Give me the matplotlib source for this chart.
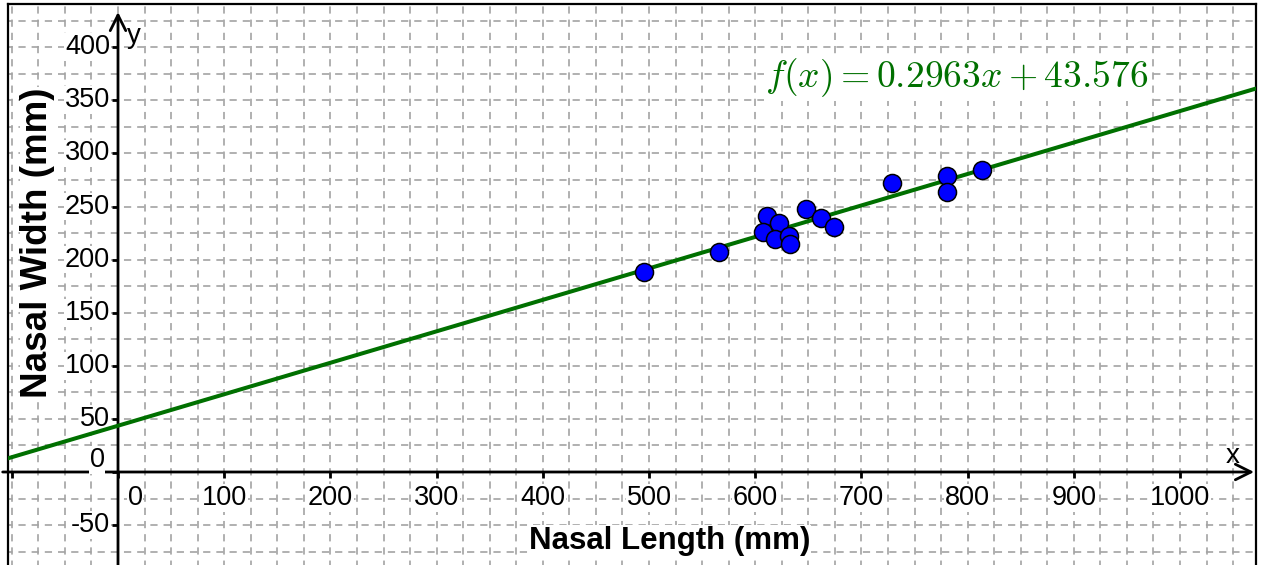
import matplotlib
matplotlib.use("Agg")
import matplotlib.pyplot as plt
import numpy as np

# ---- data ----
nasal_length = [494.9, 566.3, 611.0, 622.0, 607.8, 618.2, 631.8, 632.4, 647.8,
                662.3, 673.9, 729.2, 780.2, 780.2, 813.2]
nasal_width = [188.4, 206.9, 240.8, 234.0, 226.1, 219.8, 222.6, 214.8, 247.8,
               239.6, 231.1, 271.7, 278.3, 263.2, 284.0]
slope = 0.2963
intercept = 43.576
x_ticks = [0, 100, 200, 300, 400, 500, 600, 700, 800, 900, 1000]
y_ticks = [-50, 0, 50, 100, 150, 200, 250, 300, 350, 400]
x_label = "Nasal Length (mm)"
y_label = "Nasal Width (mm)"
formula = r"$f(x) = 0.2963x + 43.576$"

plt.rcParams['font.family'] = ['Liberation Sans', 'DejaVu Sans']
plt.rcParams['mathtext.fontset'] = 'cm'
plt.rcParams['lines.scale_dashes'] = False

W, H = 1266, 565
fig = plt.figure(figsize=(W / 100, H / 100), dpi=100)
ax = fig.add_axes([8 / W, 0, 1248 / W, (H - 4) / H])

s = 1.062  # px per unit
x0px, y0px = 118, 472
xmin, xmax = (8 - x0px) / s, (1256 - x0px) / s
ymin, ymax = (y0px - H) / s, (y0px - 4) / s
ax.set_xlim(xmin, xmax)
ax.set_ylim(ymin, ymax)

ax.set_xticks([])
ax.set_yticks([])
for sp in ['top', 'left', 'right']:
    ax.spines[sp].set_linewidth(1.6)
ax.spines['bottom'].set_visible(False)

grid_kw = dict(color='#a3a3a3', lw=1.2, ls=(2, (5.2, 4.3)), zorder=0)
for gx in np.arange(-100, 1075, 25):
    ax.axvline(gx, **grid_kw)
for gy in np.arange(-75, 441, 25):
    ax.axhline(gy, **grid_kw)

# axes with arrows
ax.annotate('', xy=(0, (y0px - 12) / s), xytext=(0, ymin - 5),
            arrowprops=dict(arrowstyle='->', lw=2, color='black', mutation_scale=28,
                            shrinkA=0, shrinkB=0), zorder=3)
ax.annotate('', xy=((1254 - x0px) / s, 0), xytext=(xmin - 5, 0),
            arrowprops=dict(arrowstyle='->', lw=2, color='black', mutation_scale=28,
                            shrinkA=0, shrinkB=0), zorder=3)

# ticks
for t in [-100] + x_ticks:
    ax.plot([t, t], [0, -5.5], color='black', lw=2, zorder=3, solid_capstyle='butt')
for t in y_ticks:
    ax.plot([0, -5.5], [t, t], color='black', lw=2, zorder=3, solid_capstyle='butt')

bbox = dict(facecolor='white', edgecolor='none', pad=0.5)
tick_fs = 19.5
for t in x_ticks:
    xx = t if t != 0 else 17 / s
    ax.text(xx, -26 / s, str(t), ha='center', va='center', fontsize=tick_fs,
            bbox=bbox, zorder=4)
for t in y_ticks:
    if t == 0:
        ax.text(-21 / s, 12 / s, "0", ha='center', va='center', fontsize=tick_fs,
                bbox=bbox, zorder=4)
    else:
        ax.text(-8 / s, t, str(t), ha='right', va='center', fontsize=tick_fs,
                bbox=bbox, zorder=4)

ax.text((1233 - x0px) / s, 16 / s, "x", ha='center', va='center', fontsize=20, zorder=4)
ax.text((134 - x0px) / s, (y0px - 36) / s, "y", ha='center', va='center', fontsize=20, zorder=4)

# regression line
xl = np.array([xmin, xmax])
ax.plot(xl, slope * xl + intercept, color='#007000', lw=2.9, zorder=4.5)

# points
ax.plot(nasal_length, nasal_width, 'o', ms=13, mfc='#0000ff', mec='black',
        mew=1.1, zorder=5)

ax.text((765 - x0px) / s, (y0px - 78) / s, formula, ha='left', va='center',
        fontsize=27, color='#007000', bbox=dict(facecolor='white', edgecolor='none', pad=1),
        zorder=4)

ax.text((670 - x0px) / s, (y0px - 541) / s, x_label, ha='center', va='center',
        fontsize=22.5, fontweight='bold', bbox=bbox, zorder=4)
ax.text((38 - x0px) / s, (y0px - 243) / s, y_label, ha='center', va='center',
        fontsize=26.5, fontweight='bold', rotation=90, bbox=bbox, zorder=4)

fig.savefig("out.png", dpi=100)
